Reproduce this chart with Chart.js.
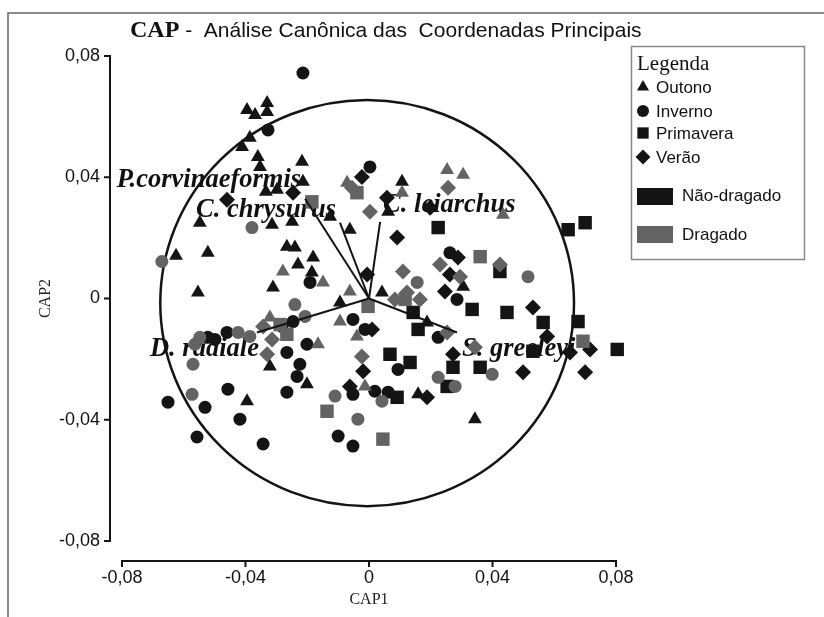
<!DOCTYPE html>
<html>
<head>
<meta charset="utf-8">
<script src="https://cdn.jsdelivr.net/npm/chart.js@4.4.0/dist/chart.umd.min.js"></script>
<style>
  html, body { margin: 0; padding: 0; background: #fff; }
</style>
</head>
<body>
<canvas id="cap" width="824" height="617"></canvas>
<script>
// ---- data (CAP1, CAP2) ----
var tickValues = [-0.08, -0.04, 0, 0.04, 0.08];

// Não-dragado (black)
var outonoNao = [[-0.0395,0.0622],[-0.0369,0.0605],[-0.0330,0.0645],[-0.0330,0.0615],[-0.0386,0.0530],[-0.0411,0.0500],[-0.0360,0.0467],[-0.0353,0.0434],[-0.0217,0.0451],[-0.0214,0.0385],[-0.0334,0.0352],[-0.0298,0.0359],[-0.0126,0.0270],[-0.0062,0.0227],[-0.0249,0.0253],[-0.0240,0.0168],[-0.0181,0.0135],[-0.0230,0.0112],[-0.0185,0.0086],[0.0107,0.0385],[0.0062,0.0286],[0.0042,0.0020],[-0.0094,-0.0013],[-0.0548,0.0250],[-0.0314,0.0243],[-0.0625,0.0141],[-0.0522,0.0151],[-0.0554,0.0020],[-0.0311,0.0036],[-0.0321,-0.0224],[-0.0201,-0.0283],[-0.0395,-0.0339],[0.0305,0.0039],[0.0188,-0.0079],[0.0159,-0.0316],[0.0343,-0.0398],[-0.0266,0.0171]];
var invernoNao = [[-0.0214,0.0744],[-0.0327,0.0556],[0.0003,0.0434],[-0.0191,0.0053],[0.0285,-0.0003],[0.0224,-0.0128],[0.0094,-0.0234],[0.0019,-0.0306],[0.0062,-0.0309],[-0.0246,-0.0076],[-0.0282,-0.0092],[-0.0460,-0.0112],[-0.0522,-0.0128],[-0.0499,-0.0135],[-0.0266,-0.0178],[-0.0224,-0.0217],[-0.0266,-0.0309],[-0.0201,-0.0151],[-0.0457,-0.0299],[-0.0531,-0.0359],[-0.0651,-0.0342],[-0.0418,-0.0398],[-0.0557,-0.0457],[-0.0343,-0.0480],[-0.0052,-0.0069],[-0.0013,-0.0102],[-0.0052,-0.0316],[-0.0100,-0.0454],[-0.0052,-0.0487],[0.0262,0.0151],[-0.0233,-0.0257]];
var primaveraNao = [[0.0224,0.0234],[0.0645,0.0227],[0.0700,0.0250],[0.0424,0.0089],[0.0447,-0.0046],[0.0143,-0.0046],[0.0159,-0.0102],[0.0564,-0.0079],[0.0677,-0.0076],[0.0068,-0.0184],[0.0133,-0.0211],[0.0272,-0.0227],[0.0360,-0.0227],[0.0531,-0.0174],[0.0804,-0.0168],[0.0253,-0.0290],[0.0091,-0.0326],[0.0334,-0.0036]];
var veraoNao = [[-0.0460,0.0326],[-0.0246,0.0349],[0.0058,0.0332],[0.0198,0.0299],[0.0091,0.0201],[0.0288,0.0135],[-0.0006,0.0079],[0.0262,0.0079],[0.0246,0.0023],[0.0531,-0.0030],[0.0577,-0.0125],[0.0010,-0.0102],[0.0272,-0.0184],[0.0651,-0.0178],[0.0716,-0.0168],[0.0499,-0.0243],[0.0700,-0.0243],[0.0188,-0.0326],[-0.0019,-0.0240],[-0.0062,-0.0290],[-0.0023,0.0401]];

// Dragado (gray)
var outonoDrag = [[-0.0071,0.0382],[0.0107,0.0349],[0.0253,0.0424],[0.0305,0.0408],[0.0434,0.0276],[-0.0279,0.0089],[-0.0149,0.0053],[-0.0321,-0.0063],[-0.0094,-0.0076],[-0.0039,-0.0125],[-0.0165,-0.0151],[-0.0013,-0.0290],[-0.0062,0.0023]];
var invernoDrag = [[-0.0379,0.0234],[-0.0240,-0.0020],[-0.0207,-0.0059],[-0.0548,-0.0128],[-0.0424,-0.0112],[-0.0570,-0.0217],[-0.0573,-0.0316],[-0.0110,-0.0322],[-0.0036,-0.0398],[0.0042,-0.0339],[0.0224,-0.0260],[0.0279,-0.0290],[0.0399,-0.0250],[0.0515,0.0072],[-0.0671,0.0122],[0.0156,0.0053],[-0.0386,-0.0125],[-0.0564,-0.0151]];
var primaveraDrag = [[-0.0185,0.0319],[0.0360,0.0138],[0.0693,-0.0141],[-0.0136,-0.0372],[0.0045,-0.0464],[-0.0003,-0.0026],[-0.0288,-0.0086],[-0.0266,-0.0118],[0.0117,-0.0003],[-0.0039,0.0349]];
var veraoDrag = [[0.0003,0.0286],[0.0256,0.0365],[0.0230,0.0112],[0.0295,0.0072],[0.0424,0.0112],[0.0110,0.0089],[0.0123,0.0020],[0.0253,-0.0112],[0.0343,-0.0161],[-0.0023,-0.0191],[-0.0343,-0.0092],[-0.0314,-0.0135],[-0.0330,-0.0184],[-0.0055,0.0365],[0.0165,-0.0003],[0.0084,-0.0003]];

// species vectors (tip coordinates)
var speciesNames = ['P.corvinaeformis', 'C. chrysurus', 'C. leiarchus', 'D. radiale', 'S. greeleyi'];
var speciesX = [-0.0207, -0.0094, 0.0036, -0.0363, 0.0285];
var speciesY = [0.0329, 0.0250, 0.0253, -0.0112, -0.0112];

// correlation circle
var circleCenter = [-0.0006, -0.0015];
var circleRadius = 0.067;

var seasons = ['Outono', 'Inverno', 'Primavera', 'Verão'];
var groups = ['Não-dragado', 'Dragado'];

var BLACK = '#141414';
var GRAY = '#636363';

function pts(arr) {
  return arr.map(function(p) { return {x: p[0], y: p[1]}; });
}

function fmt(v) {
  if (Math.abs(v) < 1e-9) return '0';
  return v.toFixed(2).replace('.', ',');
}

var styles = {
  'Outono': {pointStyle: 'triangle', radius: 8},
  'Inverno': {pointStyle: 'circle', radius: 6.5},
  'Primavera': {pointStyle: 'rect', radius: 9.5},
  'Verão': {pointStyle: 'rectRot', radius: 8}
};

function pointSet(label, arr, season, color) {
  return {
    label: label,
    data: pts(arr),
    pointStyle: styles[season].pointStyle,
    pointRadius: styles[season].radius,
    pointBackgroundColor: color,
    pointBorderWidth: 0,
    showLine: false,
    clip: false
  };
}

var datasets = [];
// vectors first so they are drawn on top
speciesNames.forEach(function(name, i) {
  datasets.push({
    label: name,
    data: [{x: 0, y: 0}, {x: speciesX[i], y: speciesY[i]}],
    showLine: true,
    borderColor: BLACK,
    borderWidth: 2,
    pointRadius: 0
  });
});
datasets.push(pointSet('Verão dragado', veraoDrag, 'Verão', GRAY));
datasets.push(pointSet('Primavera dragado', primaveraDrag, 'Primavera', GRAY));
datasets.push(pointSet('Inverno dragado', invernoDrag, 'Inverno', GRAY));
datasets.push(pointSet('Outono dragado', outonoDrag, 'Outono', GRAY));
datasets.push(pointSet('Verão não-dragado', veraoNao, 'Verão', BLACK));
datasets.push(pointSet('Primavera não-dragado', primaveraNao, 'Primavera', BLACK));
datasets.push(pointSet('Inverno não-dragado', invernoNao, 'Inverno', BLACK));
datasets.push(pointSet('Outono não-dragado', outonoNao, 'Outono', BLACK));

// label placement next to each vector tip: [dx, dy, align]
var labelPlace = [[-4, -19, 'right'], [-4, -13, 'right'], [3, -17, 'left'], [2, 17, 'right'], [5, 17, 'left']];

var decor = {
  id: 'capDecor',
  beforeDraw: function(chart) {
    var ctx = chart.ctx;
    ctx.save();
    ctx.fillStyle = '#fff';
    ctx.fillRect(0, 0, chart.width, chart.height);

    // outer frame
    ctx.strokeStyle = '#666';
    ctx.lineWidth = 1.5;
    ctx.beginPath();
    ctx.moveTo(8, chart.height);
    ctx.lineTo(8, 13);
    ctx.lineTo(chart.width, 13);
    ctx.stroke();

    // title
    ctx.fillStyle = '#111';
    ctx.textBaseline = 'middle';
    ctx.textAlign = 'left';
    ctx.font = 'bold 24px "Liberation Serif", serif';
    ctx.fillText('CAP', 130, 31);
    var w = ctx.measureText('CAP').width;
    ctx.font = '21px "Liberation Sans", Arial, sans-serif';
    ctx.fillText(' -  Análise Canônica das  Coordenadas Principais', 130 + w, 31);

    // legend box
    ctx.strokeStyle = '#888';
    ctx.lineWidth = 1.5;
    ctx.strokeRect(631.5, 46.5, 173, 213);
    ctx.font = '21px "Liberation Serif", serif';
    ctx.fillText('Legenda', 637, 64);
    var legendY = [87, 111, 133, 157];
    var legendR = {'Outono': 7, 'Inverno': 6, 'Primavera': 8, 'Verão': 7.5};
    seasons.forEach(function(s, i) {
      ctx.fillStyle = BLACK;
      Chart.helpers.drawPoint(ctx, {pointStyle: styles[s].pointStyle, radius: legendR[s], rotation: 0, borderWidth: 0}, 643, legendY[i]);
      ctx.fillStyle = '#111';
      ctx.font = '17px "Liberation Sans", Arial, sans-serif';
      ctx.textAlign = 'left';
      ctx.textBaseline = 'middle';
      ctx.fillText(s, 656, legendY[i] + 1);
    });
    ctx.fillStyle = BLACK;
    ctx.fillRect(637, 188, 36, 17);
    ctx.fillStyle = GRAY;
    ctx.fillRect(637, 226, 36, 17);
    ctx.fillStyle = '#111';
    ctx.fillText(groups[0], 682, 196);
    ctx.fillText(groups[1], 682, 235);
    ctx.restore();
  },
  beforeDatasetsDraw: function(chart) {
    var ctx = chart.ctx;
    var xs = chart.scales.x, ys = chart.scales.y;
    ctx.save();
    // circle
    var cx = xs.getPixelForValue(circleCenter[0]);
    var cy = ys.getPixelForValue(circleCenter[1]);
    var rx = xs.getPixelForValue(circleCenter[0] + circleRadius) - cx;
    var ry = cy - ys.getPixelForValue(circleCenter[1] + circleRadius);
    ctx.strokeStyle = BLACK;
    ctx.lineWidth = 2.5;
    ctx.beginPath();
    ctx.ellipse(cx, cy, rx, ry, 0, 0, Math.PI * 2);
    ctx.stroke();

    // species labels
    ctx.fillStyle = '#111';
    ctx.font = 'italic bold 26.5px "Liberation Serif", serif';
    ctx.textBaseline = 'middle';
    speciesNames.forEach(function(name, i) {
      var px = xs.getPixelForValue(speciesX[i]);
      var py = ys.getPixelForValue(speciesY[i]);
      var p = labelPlace[i];
      ctx.textAlign = p[2];
      ctx.fillText(name, px + p[0], py + p[1]);
    });
    ctx.restore();
  },
  afterDraw: function(chart) {
    var ctx = chart.ctx;
    var xs = chart.scales.x, ys = chart.scales.y;
    var area = chart.chartArea;
    ctx.save();
    ctx.strokeStyle = BLACK;
    ctx.lineWidth = 2;
    // y axis, offset left of the plot
    var ax = area.left - 12;
    ctx.beginPath();
    ctx.moveTo(ax, ys.getPixelForValue(0.08));
    ctx.lineTo(ax, ys.getPixelForValue(-0.08));
    tickValues.forEach(function(v) {
      var py = ys.getPixelForValue(v);
      ctx.moveTo(ax - 6, py);
      ctx.lineTo(ax + 1, py);
    });
    ctx.stroke();
    // x axis, offset below the plot
    var ay = area.bottom + 20;
    ctx.beginPath();
    ctx.moveTo(xs.getPixelForValue(-0.08), ay);
    ctx.lineTo(xs.getPixelForValue(0.08), ay);
    tickValues.forEach(function(v) {
      var px = xs.getPixelForValue(v);
      ctx.moveTo(px, ay - 1);
      ctx.lineTo(px, ay + 6);
    });
    ctx.stroke();
    ctx.restore();
  }
};

new Chart(document.getElementById('cap').getContext('2d'), {
  type: 'scatter',
  data: {datasets: datasets},
  options: {
    responsive: false,
    animation: false,
    layout: {padding: {left: 36, right: 208, top: 56, bottom: 8}},
    plugins: {
      legend: {display: false},
      title: {display: false},
      tooltip: {enabled: false}
    },
    scales: {
      x: {
        type: 'linear',
        min: -0.08,
        max: 0.08,
        afterFit: function(s) { s.height = 68; },
        grid: {display: false, drawTicks: false},
        border: {display: false},
        ticks: {
          stepSize: 0.04,
          padding: 26,
          maxRotation: 0,
          color: '#111',
          font: {family: '"Liberation Sans", Arial, sans-serif', size: 18},
          callback: fmt
        },
        title: {
          display: true,
          text: 'CAP1',
          color: '#222',
          padding: 0,
          font: {family: '"Liberation Serif", serif', size: 16}
        }
      },
      y: {
        type: 'linear',
        min: -0.08,
        max: 0.08,
        afterFit: function(s) { s.width = 86; },
        grid: {display: false, drawTicks: false},
        border: {display: false},
        ticks: {
          stepSize: 0.04,
          padding: 22,
          color: '#111',
          font: {family: '"Liberation Sans", Arial, sans-serif', size: 18},
          callback: fmt
        },
        title: {
          display: true,
          text: 'CAP2',
          color: '#222',
          padding: 0,
          font: {family: '"Liberation Serif", serif', size: 16}
        }
      }
    }
  },
  plugins: [decor]
});
</script>
</body>
</html>
